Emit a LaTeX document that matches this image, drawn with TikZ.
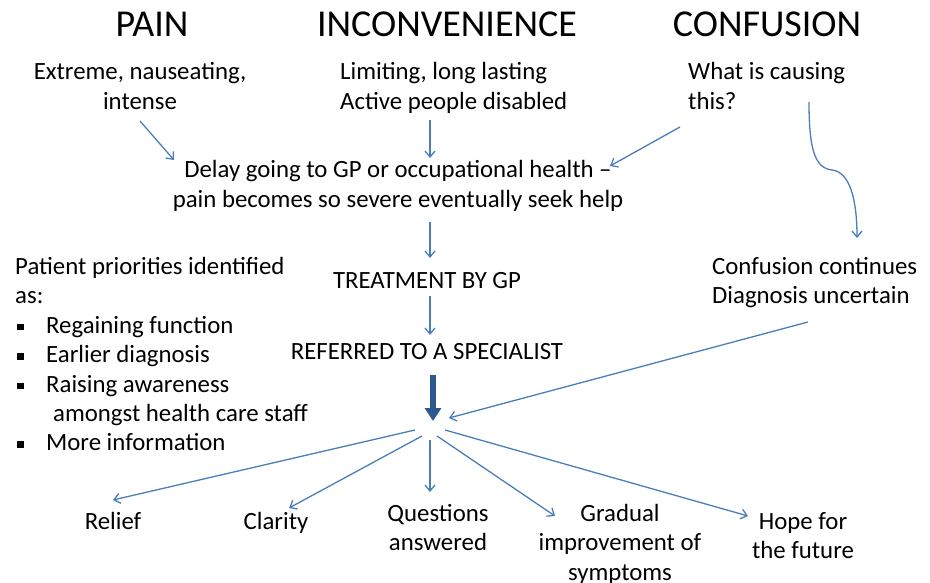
\documentclass[tikz,border=0pt]{standalone}
\usepackage{fontspec}
\setmainfont{Carlito}
\usetikzlibrary{arrows.meta}
\definecolor{lineblue}{RGB}{74,126,187}
\definecolor{darkblue}{RGB}{44,87,145}
\newcommand\mlines[2]{\begin{tabular}[t]{@{}#1@{}}#2\end{tabular}}
\newcommand\sqbullet{\raisebox{3pt}{\rule{6.5pt}{6.5pt}}}
\tikzset{
  title/.style={inner sep=0pt, anchor=base, font=\fontsize{38}{46}\selectfont},
  body/.style={inner sep=0pt, font=\fontsize{24.8}{29.5}\selectfont},
  conn/.style={draw=lineblue, line width=1.3pt, -{Straight Barb[length=6pt,width=10pt]}},
  bigarrow/.style={draw=darkblue, line width=6.5pt, -{Triangle[length=13pt,width=16pt]}}
}
\begin{document}
\begin{tikzpicture}[x=1pt,y=-1pt]
\useasboundingbox (0,0) rectangle (930,583);
% titles
\node[title] (pain) at (152,37) {PAIN};
\node[title] (inconv) at (447,37) {INCONVENIENCE};
\node[title] (conf) at (767,37) {CONFUSION};
% descriptions
\node[body, anchor=base] (paind) at (140,80) {\mlines{c}{Extreme, nauseating,\\intense}};
\node[body, anchor=base west] (inconvd) at (340,80) {\mlines{l}{Limiting, long lasting\\Active people disabled}};
\node[body, anchor=base west] (confd) at (688,80) {\mlines{l}{What is causing\\this?}};
\node[body, anchor=base] (delay) at (398,178) {\mlines{c}{Delay going to GP or occupational health --\\pain becomes so severe eventually seek help}};
\node[body, anchor=base] (treat) at (427,288) {TREATMENT BY GP};
\node[body, anchor=base] (refer) at (427,359) {REFERRED TO A SPECIALIST};
\node[body, anchor=base west] (prio) at (15,274) {\mlines{l}{Patient priorities identified\\as:}};
\node[body, anchor=base west] (bullets) at (17,333) {\begin{tabular}[t]{@{}l@{\hspace{22.5pt}}l@{}}
\sqbullet & Regaining function\\
\sqbullet & Earlier diagnosis\\
\sqbullet & Raising awareness\\
 & \hspace{7pt}amongst health care staff\\
\sqbullet & More information
\end{tabular}};
\node[body, anchor=base west] (contin) at (712,274) {\mlines{l}{Confusion continues\\Diagnosis uncertain}};
% outcomes
\node[body, anchor=base] (relief) at (113,529) {Relief};
\node[body, anchor=base] (clarity) at (276,529) {Clarity};
\node[body, anchor=base] (quest) at (438,521) {\mlines{c}{Questions\\answered}};
\node[body, anchor=base] (grad) at (620,521) {\mlines{c}{Gradual\\improvement of\\symptoms}};
\node[body, anchor=base] (hope) at (803,529) {\mlines{c}{Hope for\\the future}};
% connector end points
\coordinate (p1) at (140,121); \coordinate (p2) at (174,160);
\coordinate (i1) at (430,120); \coordinate (i2) at (430,158);
\coordinate (c1) at (680,127); \coordinate (c2) at (610,166);
\coordinate (w1) at (809,102); \coordinate (w2) at (857,238);
\coordinate (d1) at (430,222); \coordinate (d2) at (430,258);
\coordinate (t1) at (430,296); \coordinate (t2) at (430,335);
\coordinate (r1) at (433,375); \coordinate (r2) at (433,421);
\coordinate (u1) at (808,322); \coordinate (u2) at (449,418);
\coordinate (h1) at (415,430); \coordinate (h2) at (422,436);
\coordinate (h3) at (430,440); \coordinate (h4) at (437,436);
\coordinate (h5) at (445,430);
\coordinate (e1) at (113,500); \coordinate (e2) at (289,508);
\coordinate (e3) at (430,492); \coordinate (e4) at (555,516);
\coordinate (e5) at (748,516);
% connectors
\draw[conn] (p1) -- (p2);
\draw[conn] (i1) -- (i2);
\draw[conn] (c1) -- (c2);
\draw[conn] (w1) .. controls (809,150) and (815,168) .. (832,170) .. controls (850,172) and (857,200) .. (w2);
\draw[conn] (d1) -- (d2);
\draw[conn] (t1) -- (t2);
\draw[bigarrow] (r1) -- (r2);
\draw[conn] (u1) -- (u2);
\draw[conn] (h1) -- (e1);
\draw[conn] (h2) -- (e2);
\draw[conn] (h3) -- (e3);
\draw[conn] (h4) -- (e4);
\draw[conn] (h5) -- (e5);
\end{tikzpicture}
\end{document}
